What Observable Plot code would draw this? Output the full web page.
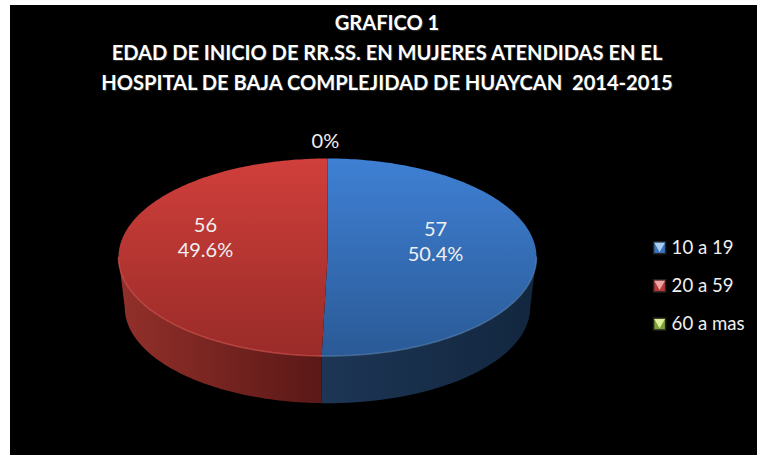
<!DOCTYPE html>
<html><head><meta charset="utf-8">
<script src="https://cdn.jsdelivr.net/npm/d3@7"></script>
<script src="https://cdn.jsdelivr.net/npm/@observablehq/plot@0.6"></script>
<style>
html,body{margin:0;padding:0;background:#fff;overflow:hidden}
#box{position:absolute;left:10px;top:5px;width:747px;height:450px;background:#000;overflow:hidden}
#title{height:95px;width:754px;color:#fff;font:bold 20.1px Lato,sans-serif;text-align:center;line-height:30px;padding-top:2px;box-sizing:border-box;text-shadow:1px 1px 1px #333;white-space:pre}
svg{display:block}
</style></head><body>
<div id="box"><div id="title"></div><div id="chart"></div></div>
<script>
const titleLines = ["GRAFICO 1","EDAD DE INICIO DE RR.SS. EN MUJERES ATENDIDAS EN EL","HOSPITAL DE BAJA COMPLEJIDAD DE HUAYCAN  2014-2015"];
const categories = ["10 a 19","20 a 59","60 a mas"];
const values = [57,56,0];
const topGradients = ["url(#topBlue)","url(#topRed)","#8db33f"];
const sideGradients = ["url(#sideBlue)","url(#sideRed)","#5e7a28"];
const rimColors = ["#5f87b8","#dc5a55","#a4c95a"];
const swatchColors = ["#3a74bd","#b8393a","#7f9f38"];
const swatchTips = ["#a9cdf2","#f0a5a5","#dcef9c"];

document.getElementById("title").innerHTML = titleLines.map(t=>`<div>${t}</div>`).join("");

const total = d3.sum(values);
const arcs = d3.pie().sort(null)(values);
const baseScale = 0.97, baseDrop = -0.508;
const topPt = a => [Math.sin(a), Math.cos(a)];
const basePt = a => [baseScale*Math.sin(a), baseScale*Math.cos(a)+baseDrop];
const steps = (a0,a1) => { const n=Math.max(2,Math.ceil((a1-a0)*60)); return d3.range(n+1).map(i=>a0+(a1-a0)*i/n); };

const topRows=[], sideRows=[], rimRows=[];
arcs.forEach((s,i)=>{
  if(s.endAngle<=s.startAngle) return;
  const pts=[[0,0],...steps(s.startAngle,s.endAngle).map(topPt)];
  pts.forEach(p=>topRows.push({i,x:p[0],y:p[1]}));
  const a0=Math.max(s.startAngle,Math.PI/2), a1=Math.min(s.endAngle,3*Math.PI/2);
  if(a1>a0){
    const st=steps(a0,a1);
    [...st.map(topPt),...st.slice().reverse().map(basePt)].forEach(p=>sideRows.push({i,x:p[0],y:p[1]}));
    st.map(topPt).forEach(p=>rimRows.push({i,x:p[0],y:p[1]}));
  }
});

const labelShift = [[0.517,0.165],[-0.584,0.21],[-0.01,1.19]];
const labels = arcs.map((s,i)=>({
  x:labelShift[i][0], y:labelShift[i][1],
  text: values[i]===0 ? d3.format(".0%")(0) : `${values[i]}\n${d3.format(".1%")(values[i]/total)}`
}));
const legendRows = categories.map((c,i)=>({c,i,x:1.589,y:0.096-0.386*i}));

const defs = () => {
  const d=d3.create("svg:defs");
  const grad=(id,x2,y2,stops)=>{
    const g=d.append("linearGradient").attr("id",id).attr("x1",0).attr("y1",0).attr("x2",x2).attr("y2",y2);
    stops.forEach(([o,c])=>g.append("stop").attr("offset",o).attr("stop-color",c));
  };
  grad("topBlue",0,1,[[0,"#3f80d4"],[1,"#2a5a96"]]);
  grad("topRed",0,1,[[0,"#d03f3b"],[1,"#992b28"]]);
  grad("sideBlue",1,0,[[0,"#1d3655"],[1,"#12263e"]]);
  grad("sideRed",1,0,[[0,"#93302b"],[1,"#5a1816"]]);
  return d.node();
};

const plot = Plot.plot({
  width:747, height:355, margin:0,
  style:{background:"transparent",overflow:"visible"},
  x:{domain:[-1,1],range:[108,526],axis:null},
  y:{domain:[-1,1],range:[255.5,58],axis:null},
  marks:[
    defs,
    ...arcs.map((s,i)=>Plot.line(sideRows.filter(r=>r.i===i),{x:"x",y:"y",fill:sideGradients[i],stroke:"none",curve:"linear"})),
    ...arcs.map((s,i)=>Plot.line(topRows.filter(r=>r.i===i),{x:"x",y:"y",fill:topGradients[i],stroke:"none",curve:"linear"})),
    ...arcs.map((s,i)=>Plot.line(rimRows.filter(r=>r.i===i),{x:"x",y:"y",stroke:rimColors[i],strokeWidth:1.5,strokeOpacity:0.6,curve:"linear"})),
    Plot.text(labels,{x:"x",y:"y",text:"text",fill:"#f0f0f0",fontSize:20,lineHeight:1.25,fontFamily:"Lato, sans-serif"}),
    Plot.dot(legendRows,{x:"x",y:"y",symbol:"square",r:6.8,fill:d=>swatchColors[d.i],stroke:"#222"}),
    Plot.dot(legendRows,{x:"x",y:"y",symbol:"triangle",r:4,rotate:180,dy:-2,fill:d=>swatchTips[d.i]}),
    Plot.text(legendRows,{x:"x",y:"y",text:"c",dx:12,textAnchor:"start",fill:"#f0f0f0",fontSize:18.6,fontFamily:"Lato, sans-serif"})
  ]
});
document.getElementById("chart").appendChild(plot);
</script></body></html>
